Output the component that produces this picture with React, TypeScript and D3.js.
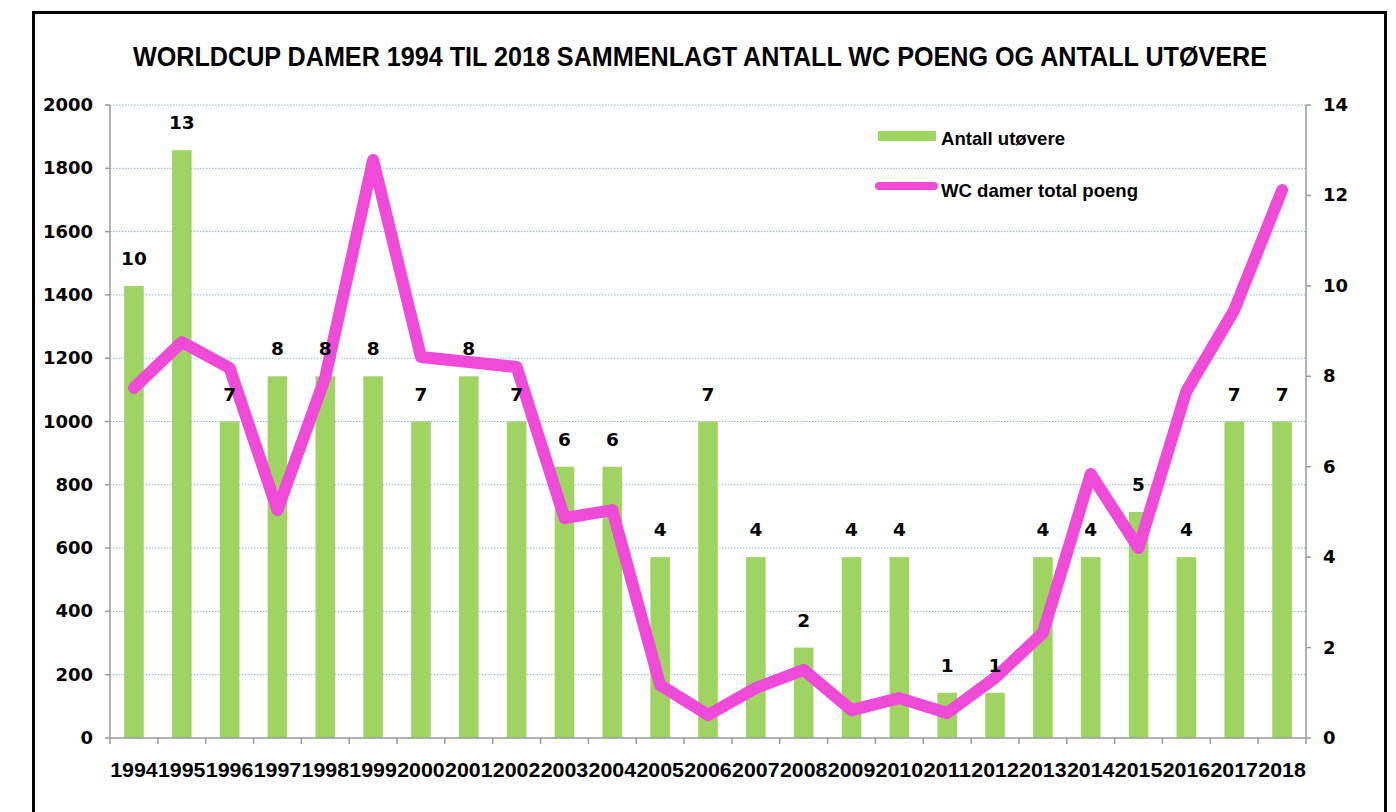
import React from "react";
import * as d3 from "d3";

const years = ["1994","1995","1996","1997","1998","1999","2000","2001","2002","2003","2004","2005","2006","2007","2008","2009","2010","2011","2012","2013","2014","2015","2016","2017","2018"];
const athletes = [10,13,7,8,8,8,7,8,7,6,6,4,7,4,2,4,4,1,1,4,4,5,4,7,7];
const points = [1106,1251,1169,720,1140,1826,1204,1188,1172,695,720,167,73,158,215,88,126,79,190,332,834,600,1096,1352,1731];
const leftTicks = [0,200,400,600,800,1000,1200,1400,1600,1800,2000];
const rightTicks = [0,2,4,6,8,10,12,14];

const TITLE = "WORLDCUP DAMER 1994 TIL 2018 SAMMENLAGT ANTALL WC POENG OG ANTALL UTØVERE";
const BAR_NAME = "Antall utøvere";
const LINE_NAME = "WC damer total poeng";

const W = 1396, H = 812;
const L = 110, R = 1306, T = 105, B = 738;
const GREEN = "#a0d462";
const PINK = "#f04ad8";
const NUMF = "'DejaVu Sans', Verdana, sans-serif";
const CALF = "'Liberation Sans Narrow', 'Liberation Sans', Arial, sans-serif";

export default function App() {
  const x = d3.scaleBand<string>().domain(years).range([L, R]).padding(0);
  const yL = d3.scaleLinear().domain([0, 2000]).range([B, T]);
  const yR = d3.scaleLinear().domain([0, 14]).range([B, T]);
  const bw = x.bandwidth() * 0.41;
  const cx = (y: string) => (x(y) as number) + x.bandwidth() / 2;
  const line = d3.line<number>().x((_, i) => cx(years[i])).y(d => yL(d));

  return (
    <svg width={W} height={H} style={{ position: "absolute", left: 0, top: 0, background: "#fff" }}>
      <rect x={0} y={0} width={W} height={H} fill="#fff" />
      <rect x={33.5} y={12.5} width={1352} height={830} fill="none" stroke="#000" strokeWidth={3} />
      <text x={700} y={66} textAnchor="middle" fontFamily={CALF} fontWeight="bold" fontSize={27}
        textLength={1134} lengthAdjust="spacingAndGlyphs" fill="#000">{TITLE}</text>

      {leftTicks.map(t => (
        <line key={"g" + t} x1={L} x2={R} y1={yL(t)} y2={yL(t)} stroke="#8fb2ea" strokeWidth={1}
          strokeDasharray="1.5,1.5" opacity={t === 0 ? 0 : 1} />
      ))}

      {athletes.map((v, i) => (
        <rect key={"b" + i} x={cx(years[i]) - bw / 2} y={yR(v)} width={bw} height={B - yR(v)} fill={GREEN} />
      ))}

      {/* axes */}
      <line x1={L} x2={L} y1={T} y2={B} stroke="#9a9a9a" strokeWidth={1.5} />
      <line x1={R} x2={R} y1={T} y2={B} stroke="#9a9a9a" strokeWidth={1.5} />
      <line x1={L} x2={R} y1={B} y2={B} stroke="#9a9a9a" strokeWidth={1.5} />
      {leftTicks.map(t => (
        <g key={"lt" + t}>
          <line x1={L - 5} x2={L} y1={yL(t)} y2={yL(t)} stroke="#9a9a9a" strokeWidth={1.5} />
          <text x={93} y={yL(t) + 6} textAnchor="end" fontFamily={NUMF} fontWeight="bold" fontSize={18} fill="#000">{t}</text>
        </g>
      ))}
      {rightTicks.map(t => (
        <g key={"rt" + t}>
          <line x1={R} x2={R + 5} y1={yR(t)} y2={yR(t)} stroke="#9a9a9a" strokeWidth={1.5} />
          <text x={1323} y={yR(t) + 6} textAnchor="start" fontFamily={NUMF} fontWeight="bold" fontSize={18} fill="#000">{t}</text>
        </g>
      ))}
      {years.map((y, i) => (
        <line key={"xt" + i} x1={x(y) as number} x2={x(y) as number} y1={B} y2={B + 6} stroke="#9a9a9a" strokeWidth={1.5} />
      ))}
      <line x1={R} x2={R} y1={B} y2={B + 6} stroke="#9a9a9a" strokeWidth={1.5} />
      {years.map(y => (
        <text key={"xl" + y} x={cx(y)} y={777} textAnchor="middle" fontFamily={CALF} fontWeight="bold" fontSize={21}
          textLength={47.5} lengthAdjust="spacingAndGlyphs" fill="#000">{y}</text>
      ))}

      <path d={line(points) || ""} fill="none" stroke={PINK} strokeWidth={12} strokeLinejoin="round" strokeLinecap="round" />

      {athletes.map((v, i) => (
        <text key={"dl" + i} x={cx(years[i])} y={yR(v) - 21} textAnchor="middle" fontFamily={NUMF} fontWeight="bold" fontSize={18.5} fill="#000">{v}</text>
      ))}

      {/* legend */}
      <rect x={878} y={131} width={58} height={10} fill={GREEN} />
      <text x={941} y={145} fontFamily={CALF} fontWeight="bold" fontSize={19} textLength={124} lengthAdjust="spacingAndGlyphs" fill="#000">{BAR_NAME}</text>
      <line x1={879} x2={934} y1={186} y2={186} stroke={PINK} strokeWidth={8} strokeLinecap="round" />
      <text x={941} y={197} fontFamily={CALF} fontWeight="bold" fontSize={19} textLength={197} lengthAdjust="spacingAndGlyphs" fill="#000">{LINE_NAME}</text>
    </svg>
  );
}
